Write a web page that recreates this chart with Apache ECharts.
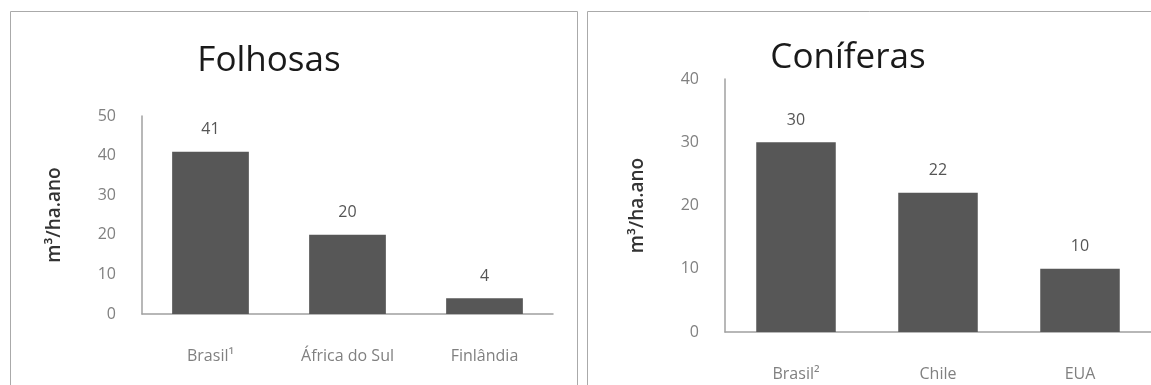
<!DOCTYPE html>
<html>
<head>
<meta charset="utf-8">
<script src="https://cdn.jsdelivr.net/npm/echarts@6/dist/echarts.min.js"></script>
<style>
  html, body { margin: 0; padding: 0; background: #fff; }
  #chart { width: 1151px; height: 385px; }
</style>
</head>
<body>
<div id="chart"></div>
<script>
var folhosasCats = ['Brasil¹', 'África do Sul', 'Finlândia'];
var folhosasVals = [41, 20, 4];
var coniferasCats = ['Brasil²', 'Chile', 'EUA'];
var coniferasVals = [30, 22, 10];
var unitName = 'm³/ha.ano';

var font = 'Open Sans';
var barColor = '#575757';
var axisColor = '#a0a0a0';
var labelColor = '#808080';

function xAxis(idx, cats) {
    return {
        type: 'category',
        gridIndex: idx,
        data: cats,
        axisLine: { lineStyle: { color: axisColor, width: 1.5 } },
        axisTick: { show: false },
        axisLabel: { color: labelColor, fontFamily: font, fontSize: 16, margin: 34 }
    };
}

function yAxis(idx, max) {
    return {
        type: 'value',
        gridIndex: idx,
        min: 0,
        max: max,
        interval: 10,
        name: unitName,
        nameLocation: 'middle',
        nameGap: 78,
        nameTextStyle: { color: '#333', fontFamily: font, fontSize: 19, fontWeight: 600 },
        axisLine: { show: true, lineStyle: { color: axisColor, width: 1.5 } },
        axisTick: { show: false },
        splitLine: { show: false },
        axisLabel: { color: labelColor, fontFamily: font, fontSize: 16, margin: 26 }
    };
}

function series(idx, vals) {
    return {
        type: 'bar',
        xAxisIndex: idx,
        yAxisIndex: idx,
        data: vals,
        barWidth: '56%',
        itemStyle: { color: barColor },
        label: {
            show: true,
            position: 'top',
            distance: 14,
            color: '#555',
            fontFamily: font,
            fontSize: 16
        }
    };
}

var option = {
    animation: false,
    title: [
        { text: 'Folhosas', left: 264, top: 39, textAlign: 'center',
          textStyle: { fontFamily: font, fontSize: 35, fontWeight: 500, color: '#1a1a1a' } },
        { text: 'Coníferas', left: 843, top: 36, textAlign: 'center',
          textStyle: { fontFamily: font, fontSize: 35, fontWeight: 500, color: '#1a1a1a' } }
    ],
    grid: [
        { left: 142, top: 116, width: 411, height: 198 },
        { left: 725, top: 79, width: 441, height: 253 }
    ],
    xAxis: [xAxis(0, folhosasCats), xAxis(1, coniferasCats)],
    yAxis: [yAxis(0, 50), yAxis(1, 40)],
    series: [series(0, folhosasVals), series(1, coniferasVals)],
    graphic: [
        { type: 'rect', shape: { x: 10.5, y: 11.5, width: 567, height: 400 },
          style: { fill: 'none', stroke: '#aaa', lineWidth: 1 } },
        { type: 'rect', shape: { x: 587.5, y: 11.5, width: 600, height: 400 },
          style: { fill: 'none', stroke: '#aaa', lineWidth: 1 } }
    ]
};

var myChart = echarts.init(document.getElementById('chart'));
myChart.setOption(option);
</script>
</body>
</html>
